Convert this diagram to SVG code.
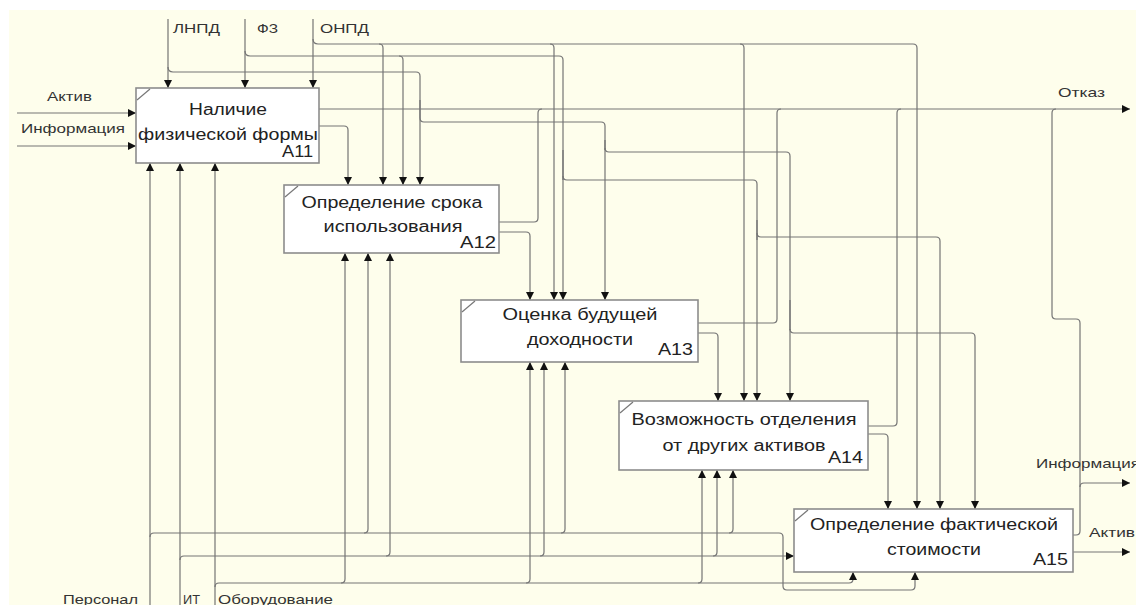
<svg xmlns="http://www.w3.org/2000/svg" width="1136" height="605" viewBox="0 0 1136 605">
<defs>
<marker id="ah" viewBox="0 0 8 8" refX="8" refY="4" markerWidth="8" markerHeight="8" markerUnits="userSpaceOnUse" orient="auto">
<path d="M0,0 L8,4 L0,8 z" fill="#111"/>
</marker>
</defs>
<style>
.bg{fill:#FEFEEC}
.box{fill:#FFFFFF;stroke:#8C8C8C;stroke-width:1.6}
.tick{stroke:#777;stroke-width:1.2;fill:none}
.t{font-family:"Liberation Sans",Arial,sans-serif;font-size:16px;fill:#222;text-anchor:middle}
.code{font-family:"Liberation Sans",Arial,sans-serif;font-size:16px;fill:#222;text-anchor:end}
.lbl{font-family:"Liberation Sans",Arial,sans-serif;font-size:13px;fill:#333}
.c path{fill:none;stroke:#747474;stroke-width:1.2}
.c path.a{marker-end:url(#ah)}
</style>
<rect x="0" y="0" width="1136" height="605" fill="#FFFFFF"/>
<rect class="bg" x="9" y="10" width="1127" height="595"/>

<g id="connectors" class="c">
<!-- controls: ЛНПД -->
<path class="a" d="M168,19 V88"/>
<path d="M168,67 Q168,72 173,72 H416 Q420,72 420,76 V118"/>
<path class="a" d="M420,100 V185"/>
<path d="M420,118 Q420,122 424,122 H601 Q605,122 605,126 V150"/>
<path class="a" d="M605,140 V300"/>
<path d="M605,148 Q605,152 609,152 H786 Q790,152 790,156 V330"/>
<path class="a" d="M790,300 V401"/>
<path class="a" d="M790,329 Q790,333 794,333 H971 Q975,333 975,337 V509"/>
<!-- controls: ФЗ -->
<path class="a" d="M245,19 V88"/>
<path d="M245,51 Q245,56 250,56 H559 Q563,56 563,60 V180"/>
<path class="a" d="M563,150 V300"/>
<path class="a" d="M399,56 Q403,56 403,60 V185"/>
<path d="M563,176 Q563,180 567,180 H753 Q757,180 757,184 V240"/>
<path class="a" d="M757,220 V401"/>
<path class="a" d="M757,233 Q757,237 761,237 H936 Q940,237 940,241 V509"/>
<!-- controls: ОНПД -->
<path class="a" d="M313,19 V88"/>
<path class="a" d="M313,39 Q313,44 318,44 H913 Q917,44 917,48 V509"/>
<path class="a" d="M379,44 Q383,44 383,48 V185"/>
<path class="a" d="M550,44 Q554,44 554,48 V300"/>
<path class="a" d="M740,44 Q744,44 744,48 V401"/>
<!-- inputs -->
<path class="a" d="M17,113 H136"/>
<path class="a" d="M17,146 H136"/>
<path class="a" d="M319,126 H344 Q348,126 348,130 V185"/>
<path class="a" d="M499,232 H526 Q530,232 530,236 V300"/>
<path class="a" d="M698,333 H714 Q718,333 718,337 V401"/>
<path class="a" d="M868,434 H884 Q888,434 888,438 V509"/>
<!-- outputs: Отказ -->
<path class="a" d="M319,109 H1130"/>
<path d="M499,222 H534 Q538,222 538,218 V113 Q538,109 542,109"/>
<path d="M698,323 H773 Q777,323 777,319 V113 Q777,109 781,109"/>
<path d="M868,426 H893 Q897,426 897,422 V113 Q897,109 901,109"/>
<path d="M1073,535 H1076 Q1080,535 1080,531 V323 Q1080,319 1076,319 H1056 Q1052,319 1052,315 V113 Q1052,109 1056,109"/>
<path class="a" d="M1080,487 Q1080,483 1084,483 H1130"/>
<path class="a" d="M1073,552 H1130"/>
<!-- mechanisms: Персонал -->
<path class="a" d="M150,605 V163"/>
<path class="a" d="M150,537 Q150,533 154,533 H779 Q783,533 783,537 V586 Q783,590 787,590 H911 Q915,590 915,586 V572"/>
<path class="a" d="M364,533 Q368,533 368,529 V253"/>
<path class="a" d="M561,533 Q565,533 565,529 V362"/>
<path class="a" d="M729,533 Q733,533 733,529 V470"/>
<!-- mechanisms: ИТ -->
<path class="a" d="M180,605 V163"/>
<path class="a" d="M180,560 Q180,556 184,556 H794"/>
<path class="a" d="M386,556 Q390,556 390,552 V253"/>
<path class="a" d="M540,556 Q544,556 544,552 V362"/>
<path class="a" d="M713,556 Q717,556 717,552 V470"/>
<!-- mechanisms: Оборудование -->
<path class="a" d="M215,605 V163"/>
<path class="a" d="M215,587 Q215,583 219,583 H849 Q853,583 853,579 V572"/>
<path class="a" d="M341,583 Q345,583 345,579 V253"/>
<path class="a" d="M526,583 Q530,583 530,579 V362"/>
<path class="a" d="M698,583 Q702,583 702,579 V470"/>
</g>

<g id="labels">
<text class="lbl" x="173" y="33" textLength="47" lengthAdjust="spacingAndGlyphs">ЛНПД</text>
<text class="lbl" x="257" y="33" textLength="21" lengthAdjust="spacingAndGlyphs">ФЗ</text>
<text class="lbl" x="320" y="33" textLength="49" lengthAdjust="spacingAndGlyphs">ОНПД</text>
<text class="lbl" x="47" y="101" textLength="45" lengthAdjust="spacingAndGlyphs">Актив</text>
<text class="lbl" x="21" y="133" textLength="104" lengthAdjust="spacingAndGlyphs">Информация</text>
<text class="lbl" x="1058" y="97" textLength="47" lengthAdjust="spacingAndGlyphs">Отказ</text>
<text class="lbl" x="1036" y="468" textLength="104" lengthAdjust="spacingAndGlyphs">Информация</text>
<text class="lbl" x="1089" y="537" textLength="46" lengthAdjust="spacingAndGlyphs">Актив</text>
<text class="lbl" x="63" y="604" textLength="75" lengthAdjust="spacingAndGlyphs">Персонал</text>
<text class="lbl" x="183" y="604" textLength="17" lengthAdjust="spacingAndGlyphs">ИТ</text>
<text class="lbl" x="218" y="604" textLength="115" lengthAdjust="spacingAndGlyphs">Оборудование</text>
</g>

<g id="A11">
<rect class="box" x="136" y="88" width="183" height="75"/>
<path class="tick" d="M137,100 L150,89"/>
<text class="t" x="228" y="115" textLength="78" lengthAdjust="spacingAndGlyphs">Наличие</text>
<text class="t" x="228" y="140" textLength="180" lengthAdjust="spacingAndGlyphs">физической формы</text>
<text class="code" x="313" y="157" textLength="31" lengthAdjust="spacingAndGlyphs">A11</text>
</g>
<g id="A12">
<rect class="box" x="284" y="185" width="215" height="68"/>
<path class="tick" d="M285,197 L298,186"/>
<text class="t" x="392" y="208" textLength="181" lengthAdjust="spacingAndGlyphs">Определение срока</text>
<text class="t" x="393" y="232" textLength="139" lengthAdjust="spacingAndGlyphs">использования</text>
<text class="code" x="496" y="248" textLength="36" lengthAdjust="spacingAndGlyphs">A12</text>
</g>
<g id="A13">
<rect class="box" x="461" y="300" width="237" height="62"/>
<path class="tick" d="M462,312 L475,301"/>
<text class="t" x="580" y="320" textLength="155" lengthAdjust="spacingAndGlyphs">Оценка будущей</text>
<text class="t" x="580" y="345" textLength="106" lengthAdjust="spacingAndGlyphs">доходности</text>
<text class="code" x="693" y="355" textLength="35" lengthAdjust="spacingAndGlyphs">A13</text>
</g>
<g id="A14">
<rect class="box" x="619" y="401" width="249" height="69"/>
<path class="tick" d="M620,413 L633,402"/>
<text class="t" x="744" y="425" textLength="225" lengthAdjust="spacingAndGlyphs">Возможность отделения</text>
<text class="t" x="744" y="451" textLength="163" lengthAdjust="spacingAndGlyphs">от других активов</text>
<text class="code" x="863" y="463" textLength="35" lengthAdjust="spacingAndGlyphs">A14</text>
</g>
<g id="A15">
<rect class="box" x="794" y="509" width="279" height="63"/>
<path class="tick" d="M795,521 L808,510"/>
<text class="t" x="934" y="530" textLength="248" lengthAdjust="spacingAndGlyphs">Определение фактической</text>
<text class="t" x="934" y="555" textLength="94" lengthAdjust="spacingAndGlyphs">стоимости</text>
<text class="code" x="1068" y="565" textLength="35" lengthAdjust="spacingAndGlyphs">A15</text>
</g>
</svg>
